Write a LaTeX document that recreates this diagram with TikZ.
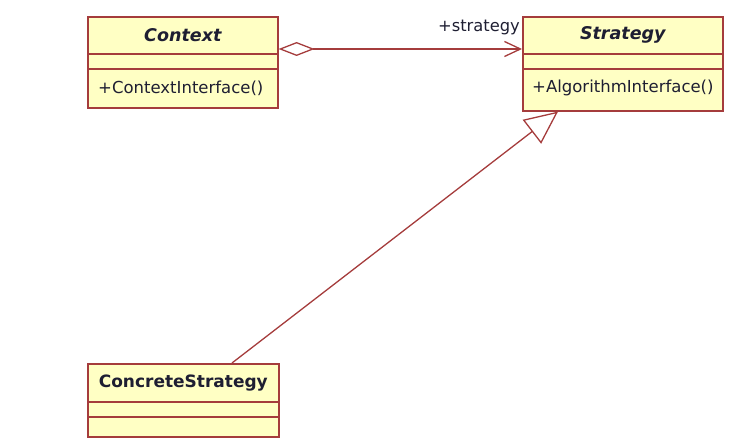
\documentclass[tikz,border=0pt]{standalone}
\usepackage{fontspec}
\setmainfont{DejaVu Sans}
\usetikzlibrary{arrows.meta}
\definecolor{umlborder}{RGB}{165,60,60}
\definecolor{umlfill}{RGB}{255,255,196}
\definecolor{umltext}{RGB}{30,30,50}
\begin{document}
\begin{tikzpicture}[x=1pt,y=-1pt,
  classbox/.style={draw=umlborder, fill=umlfill, line width=1.6pt, rectangle, anchor=north west, inner sep=0pt},
  sepline/.style={draw=umlborder, line width=1.6pt},
  conn/.style={draw=umlborder, line width=1.3pt},
  ctitle/.style={font=\fontsize{17}{20}\selectfont\bfseries, text=umltext, inner sep=0pt},
  atitle/.style={font=\fontsize{17.5}{20}\selectfont\bfseries\itshape, text=umltext, inner sep=0pt},
  member/.style={font=\fontsize{16.5}{20}\selectfont, text=umltext, inner sep=0pt, anchor=west},
  rolelbl/.style={font=\fontsize{16.3}{20}\selectfont, text=umltext, inner sep=0pt, anchor=east}
]
\useasboundingbox (0,0) rectangle (736,444);

% Context
\node[classbox, minimum width=190pt, minimum height=91pt] (ctx) at (87,16) {};
\draw[sepline] ([yshift=-38pt]ctx.north west) -- ([yshift=-38pt]ctx.north east);
\draw[sepline] ([yshift=-53pt]ctx.north west) -- ([yshift=-53pt]ctx.north east);
\node[atitle] (ctxt) at ([yshift=-19pt]ctx.north) {Context};
\node[member] (ctxm) at ([xshift=11pt,yshift=-72pt]ctx.north west) {+ContextInterface()};

% Strategy
\node[classbox, minimum width=200pt, minimum height=94pt] (str) at (522,16) {};
\draw[sepline] ([yshift=-38pt]str.north west) -- ([yshift=-38pt]str.north east);
\draw[sepline] ([yshift=-53pt]str.north west) -- ([yshift=-53pt]str.north east);
\node[atitle] (strt) at ([yshift=-19pt]str.north) {Strategy};
\node[member] (strm) at ([xshift=10pt,yshift=-72pt]str.north west) {+AlgorithmInterface()};

% ConcreteStrategy
\node[classbox, minimum width=191pt, minimum height=73pt] (cs) at (87,363) {};
\draw[sepline] ([yshift=-39pt]cs.north west) -- ([yshift=-39pt]cs.north east);
\draw[sepline] ([yshift=-54pt]cs.north west) -- ([yshift=-54pt]cs.north east);
\node[ctitle] (cst) at ([yshift=-20pt]cs.north) {ConcreteStrategy};

% Aggregation
\draw[conn, {Diamond[open, length=36pt, width=14pt]}-{Straight Barb[length=16pt, width=15pt]}]
  ([yshift=-33pt]ctx.north east) -- ([yshift=-33pt]str.north west);
\node[rolelbl] (role) at ([xshift=-2pt,yshift=-11pt]str.north west) {+strategy};

% Generalization
\draw[conn, -{Triangle[open, length=33pt, width=30pt]}]
  ([xshift=145pt]cs.north west) -- ([xshift=36pt]str.south west);
\end{tikzpicture}
\end{document}
